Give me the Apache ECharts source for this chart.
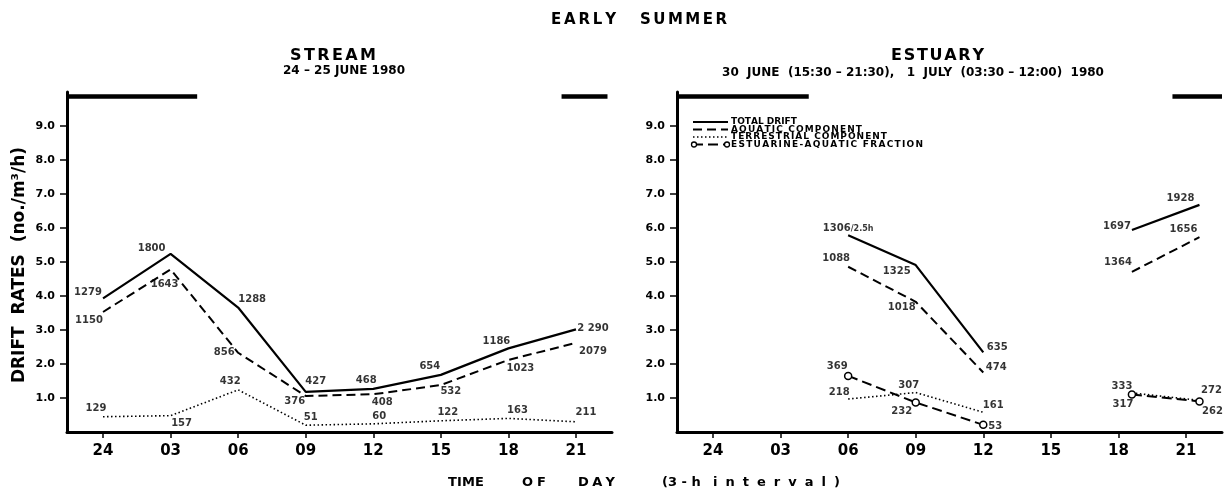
<!DOCTYPE html>
<html><head><meta charset="utf-8">
<script src="https://cdn.jsdelivr.net/npm/echarts@6/dist/echarts.min.js"></script>
<style>html,body{margin:0;padding:0;background:#fff}#c{width:1229px;height:491px}</style>
</head><body><div id="c"></div>
<script>
// ---------- DATA ----------
const timeLabels = ['24','03','06','09','12','15','18','21'];
const tickHours = [0,3,6,9,12,15,18,21];
const yTicks = [1,2,3,4,5,6,7,8,9];

// STREAM 24-25 June 1980 (rates no./m3/h, counts as printed)
const streamHours = [0,3,6,9,12,15,18,21];
const streamTotal = [3.93,5.24,3.66,1.18,1.27,1.68,2.46,3.02];
const streamAquatic = [3.53,4.78,2.33,1.06,1.11,1.38,2.12,2.62];
const streamTerrestrial = [0.45,0.48,1.24,0.2,0.24,0.33,0.4,0.3];
const streamTotalCounts = ['1279','1800','1288','427','468','654','1186','2 290'];
const streamAquaticCounts = ['1150','1643','856','376','408','532','1023','2079'];
const streamTerrestrialCounts = ['129','157','432','51','60','122','163','211'];

// ESTUARY 30 June / 1 July 1980
const estuaryHours = [6,9,12,18.6,21.6];
const estuaryTotal = [5.79,4.91,2.34,5.94,6.68];
const estuaryAquatic = [4.86,3.83,1.75,4.71,5.73];
const estuaryTerrestrial = [0.97,1.16,0.58,1.15,0.93];
const estuaryFraction = [1.65,0.87,0.21,1.1,0.9];
const estuaryTotalCounts = ['1306/2.5h','1325','635','1697','1928'];
const estuaryAquaticCounts = ['1088','1018','474','1364','1656'];
const estuaryTerrestrialCounts = ['218','307','161','333','272'];
const estuaryFractionCounts = ['369','232','53','317','262'];
const estuarySegments = [[0,3],[3,5]];

// dark periods (hours) drawn as bars along the top
const nightStream = [[-1.6,4.18],[20.36,22.4]];
const nightEstuary = [[-1.6,4.25],[20.4,22.6]];
const nightLevel = 9.87;

const seriesNames = ['TOTAL DRIFT','AQUATIC COMPONENT','TERRESTRIAL COMPONENT','ESTUARINE-AQUATIC FRACTION'];

// ---------- LAYOUT (label offsets in px, relative to point) ----------
const L = {
  sTot: [[-15,-6],[-19,-5],[14,-8],[10,-10],[-7,-8],[-11,-8],[-12,-7],[17,-1]],
  sAq:  [[-14,8],[-6,15],[-14,0],[-11,5],[9,8],[10,6],[12,8],[17,8]],
  sTer: [[-7,-8],[11,8],[-8,-8],[5,-8],[6,-7],[7,-8],[9,-8],[10,-9]],
  eTot: [[0,-7],[-19,6],[14,-5],[-15,-4],[-19,-6]],
  eAq:  [[-12,-8],[-14,6],[13,-5],[-14,-9],[-16,-8]],
  eTer: [[-9,-7],[-7,-7],[10,-7],[-10,-6],[12,-10]],
  eFr:  [[-11,-9],[-14,9],[12,2],[-9,10],[13,10]]
};

const FONT = '"DejaVu Sans", sans-serif';
const X_MIN = -1.6, X_MAX = 22.6;

const styles = {
  total: {width:2.2, type:'solid', dash:null},
  aquatic: {width:2, type:[9,5], dash:[9,5]},
  terr: {width:1.6, type:[1.5,2.5], dash:[1.5,2.5]},
  frac: {width:2, type:[10,5], dash:[10,5]}
};

function rich(t){
  const i = t.indexOf('/');
  return i<0 ? '{a|'+t+'}' : '{a|'+t.slice(0,i)+'}{b|'+t.slice(i)+'}';
}

function lineSeries(gi, name, hours, vals, st, segs, extra){
  segs = segs || [[0, vals.length]];
  return segs.map(([a,b]) => Object.assign({
    type:'line', name, xAxisIndex:gi, yAxisIndex:gi,
    data: hours.slice(a,b).map((h,k)=>[h, vals[a+k]]),
    symbol:'none', lineStyle:{color:'#000', width:st.width, type:st.type},
    itemStyle:{color:'#000'},
    emphasis:{disabled:true}, silent:true, animation:false, z:3
  }, extra||{}));
}

function labelSeries(gi, hours, vals, texts, offs){
  return {
    type:'scatter', xAxisIndex:gi, yAxisIndex:gi, symbolSize:1,
    itemStyle:{color:'rgba(0,0,0,0)'}, silent:true, animation:false, z:5,
    data: hours.map((h,i)=>({value:[h, vals[i]], label:{offset:offs[i], formatter:rich(texts[i])}})),
    label:{show:true, position:'inside', color:'#000',
      rich:{a:{fontSize:10, fontWeight:'bold', fontFamily:FONT, color:'#000'},
            b:{fontSize:8, fontWeight:'bold', fontFamily:FONT, color:'#000', padding:[2,0,0,0]}}}
  };
}

function nightSeries(gi, periods){
  return periods.map(p => ({
    type:'line', xAxisIndex:gi, yAxisIndex:gi, symbol:'none', silent:true, animation:false,
    data: p.map(h=>[h, nightLevel]), lineStyle:{color:'#000', width:4.5}, z:2
  }));
}

function xAxis(gi){
  return {
    type:'value', gridIndex:gi, min:X_MIN, max:X_MAX, splitLine:{show:false},
    axisLine:{show:true, onZero:false, lineStyle:{color:'#000', width:3}},
    axisTick:{show:true, customValues:tickHours, length:6, lineStyle:{color:'#000', width:1.5}},
    axisLabel:{customValues:tickHours, margin:12, color:'#000', fontFamily:FONT, fontWeight:'bold', fontSize:15,
      formatter:v=>timeLabels[tickHours.indexOf(Math.round(v))]}
  };
}
function yAxis(gi){
  return {
    type:'value', gridIndex:gi, min:0, max:10, splitLine:{show:false},
    axisLine:{show:true, onZero:false, lineStyle:{color:'#000', width:3}},
    axisTick:{show:true, customValues:yTicks, length:7, lineStyle:{color:'#000', width:1.5}},
    axisLabel:{customValues:yTicks, margin:12, color:'#000', fontFamily:FONT, fontWeight:'bold', fontSize:11,
      formatter:v=>v.toFixed(1)}
  };
}

const series = [].concat(
  nightSeries(0, nightStream), nightSeries(1, nightEstuary),
  lineSeries(0, seriesNames[0], streamHours, streamTotal, styles.total),
  lineSeries(0, seriesNames[1], streamHours, streamAquatic, styles.aquatic),
  lineSeries(0, seriesNames[2], streamHours, streamTerrestrial, styles.terr),
  lineSeries(1, seriesNames[0], estuaryHours, estuaryTotal, styles.total, estuarySegments),
  lineSeries(1, seriesNames[1], estuaryHours, estuaryAquatic, styles.aquatic, estuarySegments),
  lineSeries(1, seriesNames[2], estuaryHours, estuaryTerrestrial, styles.terr, estuarySegments),
  lineSeries(1, seriesNames[3], estuaryHours, estuaryFraction, styles.frac, estuarySegments,
    {symbol:'circle', symbolSize:7, itemStyle:{color:'#fff', borderColor:'#000', borderWidth:1.5}}),
  [
    labelSeries(0, streamHours, streamTotal, streamTotalCounts, L.sTot),
    labelSeries(0, streamHours, streamAquatic, streamAquaticCounts, L.sAq),
    labelSeries(0, streamHours, streamTerrestrial, streamTerrestrialCounts, L.sTer),
    labelSeries(1, estuaryHours, estuaryTotal, estuaryTotalCounts, L.eTot),
    labelSeries(1, estuaryHours, estuaryAquatic, estuaryAquaticCounts, L.eAq),
    labelSeries(1, estuaryHours, estuaryTerrestrial, estuaryTerrestrialCounts, L.eTer),
    labelSeries(1, estuaryHours, estuaryFraction, estuaryFractionCounts, L.eFr)
  ]
);

function gtext(text, x, y, font, align, extra){
  return Object.assign({type:'text', x, y, silent:true,
    style:{text, font, fill:'#000', textAlign:align||'center', textVerticalAlign:'middle'}}, extra||{});
}

// letter-spaced text: spread characters of `text` so it runs from x0 to x1
const measureCtx = document.createElement('canvas').getContext('2d');
function spaced(text, x0, x1, y, font){
  measureCtx.font = font;
  const chars = Array.from(text);
  const widths = chars.map(c=>measureCtx.measureText(c).width);
  const total = widths.reduce((a,b)=>a+b,0);
  const extra = chars.length>1 ? Math.max(0,(x1-x0-total)/(chars.length-1)) : 0;
  let x = x0; const out = [];
  chars.forEach((c,i)=>{ if (c!==' ') out.push(gtext(c, x, y, font, 'left')); x += widths[i]+extra; });
  return out;
}

// legend drawn with graphic primitives
const legendX0 = 693, legendX1 = 728, legendTextX = 731, legendY = [122, 129.5, 137, 144.5];
const legendTextEnd = [795, 862, 887, 923];
const legendStyles = [styles.total, styles.aquatic, styles.terr, styles.frac];
const legendGraphics = [];
seriesNames.forEach((n,i)=>{
  const y = legendY[i], st = legendStyles[i];
  legendGraphics.push({type:'line', silent:true, shape:{x1:legendX0, y1:y, x2:legendX1, y2:y},
    style:{stroke:'#000', lineWidth:Math.min(st.width,1.8), lineDash:st.dash}});
  if (i===3){
    [legendX0+1, legendX1-1].forEach(cx=>legendGraphics.push({type:'circle', silent:true, shape:{cx, cy:y, r:2.5},
      style:{fill:'#fff', stroke:'#000', lineWidth:1.3}, z:10}));
  }
  legendGraphics.push(...spaced(n, legendTextX, legendTextEnd[i], y, 'bold 9px '+FONT));
});

const titleFont = 'bold 15px '+FONT, panelFont = 'bold 16px '+FONT, axFont = 'bold 13px '+FONT;
const option = {
  backgroundColor:'#fff',
  animation:false,
  grid:[
    {left:67, top:92, width:545, height:340},
    {left:677, top:92, width:545, height:340}
  ],
  xAxis:[xAxis(0), xAxis(1)],
  yAxis:[yAxis(0), yAxis(1)],
  series,
  graphic:[].concat(
    spaced('EARLY', 551, 616, 20, titleFont),
    spaced('SUMMER', 640, 727, 20, titleFont),
    spaced('STREAM', 290, 376, 56, panelFont),
    [gtext('24 – 25 JUNE 1980', 344, 71, 'bold 12px '+FONT)],
    spaced('ESTUARY', 891, 984, 56, panelFont),
    [gtext('30  JUNE  (15:30 – 21:30),   1  JULY  (03:30 – 12:00)  1980', 913, 73, 'bold 12px '+FONT)],
    [gtext('DRIFT  RATES  (no./m³/h)', 20, 265, 'bold 17px '+FONT, 'center', {rotation:Math.PI/2})],
    spaced('TIME', 448, 484, 483, axFont),
    spaced('OF', 522, 546, 483, axFont),
    spaced('DAY', 578, 615, 483, axFont),
    spaced('(3 - h', 662, 700, 483, axFont),
    spaced('interval)', 713, 840, 483, axFont),
    legendGraphics
  )
};

echarts.init(document.getElementById('c'), null, {renderer:'canvas'}).setOption(option);
</script>
</body></html>
